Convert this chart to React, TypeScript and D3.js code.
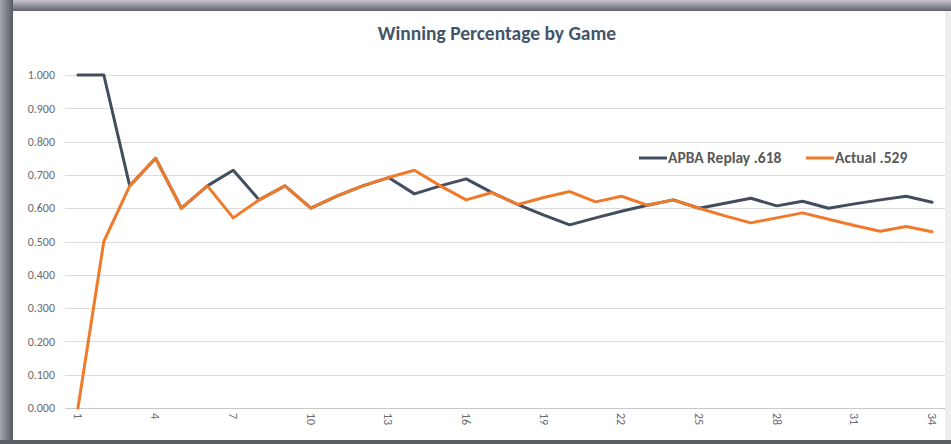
import React, { useEffect, useRef } from "react";
import * as d3 from "d3";

// Winning percentage after each game
const games: number[] = d3.range(1, 35);

const apbaReplay: number[] = [
  1.0, 1.0, 0.667, 0.75, 0.6, 0.667, 0.714, 0.625, 0.667, 0.6,
  0.636, 0.667, 0.692, 0.643, 0.667, 0.688, 0.647, 0.611, 0.579, 0.55,
  0.571, 0.591, 0.609, 0.625, 0.6, 0.615, 0.63, 0.607, 0.621, 0.6,
  0.613, 0.625, 0.636, 0.618,
];

const actual: number[] = [
  0.0, 0.5, 0.667, 0.75, 0.6, 0.667, 0.571, 0.625, 0.667, 0.6,
  0.636, 0.667, 0.692, 0.714, 0.667, 0.625, 0.647, 0.611, 0.632, 0.65,
  0.619, 0.636, 0.609, 0.625, 0.6, 0.577, 0.556, 0.571, 0.586, 0.567,
  0.548, 0.531, 0.545, 0.529,
];

const yTicks: number[] = [0, 0.1, 0.2, 0.3, 0.4, 0.5, 0.6, 0.7, 0.8, 0.9, 1.0];
const xTickGames: number[] = [1, 4, 7, 10, 13, 16, 19, 22, 25, 28, 31, 34];

const seriesNames = ["APBA Replay .618", "Actual .529"];
const seriesColors = ["#424D5E", "#F07A2C"];

const W = 951;
const H = 444;
const FONT = "Calibri, Carlito, 'Open Sans', sans-serif";

const App: React.FC = () => {
  const svgRef = useRef<SVGSVGElement>(null);

  useEffect(() => {
    if (!svgRef.current) return;
    const root = d3.select(svgRef.current);
    root.selectAll("*").remove();

    // Frame (screenshot border look)
    const defs = root.append("defs");
    const topGrad = defs.append("linearGradient").attr("id", "topShade").attr("x1", 0).attr("y1", 0).attr("x2", 0).attr("y2", 1);
    topGrad.append("stop").attr("offset", "0%").attr("stop-color", "#c8c9cc");
    topGrad.append("stop").attr("offset", "100%").attr("stop-color", "#5d6168");
    const leftGrad = defs.append("linearGradient").attr("id", "leftShade").attr("x1", 0).attr("y1", 0).attr("x2", 1).attr("y2", 0);
    leftGrad.append("stop").attr("offset", "0%").attr("stop-color", "#a6a8ac");
    leftGrad.append("stop").attr("offset", "100%").attr("stop-color", "#555a62");

    root.append("rect").attr("width", W).attr("height", H).attr("fill", "#eeeeef");
    root.append("rect").attr("x", 0).attr("y", 0).attr("width", W).attr("height", 11).attr("fill", "url(#topShade)");
    root.append("rect").attr("x", 0).attr("y", 0).attr("width", 13).attr("height", H).attr("fill", "url(#leftShade)");
    root.append("rect").attr("x", 13).attr("y", 11).attr("width", 932).attr("height", 429).attr("fill", "#ffffff");
    root.append("rect").attr("x", 0).attr("y", 440).attr("width", W).attr("height", 4).attr("fill", "#5a5e64");

    // Scales
    const x = d3.scaleBand<number>().domain(games).range([65, 945]).padding(0);
    const cx = (g: number) => (x(g) as number) + x.bandwidth() / 2;
    const y = d3.scaleLinear().domain([0, 1]).range([408, 75]);

    // Title
    root
      .append("text")
      .attr("x", 497)
      .attr("y", 40)
      .attr("text-anchor", "middle")
      .style("font-family", FONT)
      .style("font-size", "19.5px")
      .style("font-weight", 700)
      .style("fill", "#44546A")
      .text("Winning Percentage by Game");

    // Grid lines
    root
      .append("g")
      .selectAll("line")
      .data(yTicks)
      .enter()
      .append("line")
      .attr("x1", 65)
      .attr("x2", 945)
      .attr("y1", (d) => Math.round(y(d)) + 0.5)
      .attr("y2", (d) => Math.round(y(d)) + 0.5)
      .style("stroke", (d) => (d === 0 ? "#c8c8c8" : "#dcdcdc"))
      .style("stroke-width", 1);

    // Y axis labels
    root
      .append("g")
      .selectAll("text")
      .data(yTicks)
      .enter()
      .append("text")
      .attr("x", 55)
      .attr("y", (d) => y(d))
      .attr("dy", "0.35em")
      .attr("text-anchor", "end")
      .style("font-family", FONT)
      .style("font-size", "12px")
      .style("fill", "#6b6b6b")
      .text((d) => d3.format(".3f")(d));

    // X axis labels (rotated)
    root
      .append("g")
      .selectAll("text")
      .data(xTickGames)
      .enter()
      .append("text")
      .attr("transform", (d) => `translate(${cx(d)},${413}) rotate(90)`)
      .attr("dy", "0.35em")
      .attr("text-anchor", "start")
      .style("font-family", FONT)
      .style("font-size", "12px")
      .style("fill", "#6b6b6b")
      .text((d) => String(d));

    // Lines
    const line = d3
      .line<number>()
      .x((_, i) => cx(games[i]))
      .y((d) => y(d));

    [apbaReplay, actual].forEach((series, k) => {
      root
        .append("path")
        .datum(series)
        .attr("d", line)
        .style("fill", "none")
        .style("stroke", seriesColors[k])
        .style("stroke-width", 3)
        .style("stroke-linejoin", "round")
        .style("stroke-linecap", "round");
    });

    // Legend
    const legendX = [639, 806];
    const legendY = 158;
    seriesNames.forEach((name, k) => {
      const g = root.append("g").attr("transform", `translate(${legendX[k]},${legendY})`);
      g.append("line")
        .attr("x1", 0)
        .attr("x2", 28)
        .attr("y1", 0)
        .attr("y2", 0)
        .style("stroke", seriesColors[k])
        .style("stroke-width", 3);
      g.append("text")
        .attr("x", 29)
        .attr("y", 0)
        .attr("dy", "0.35em")
        .style("font-family", FONT)
        .style("font-size", "15.5px")
        .style("font-weight", 700)
        .style("fill", "#595959")
        .text(name);
    });
  }, []);

  return (
    <svg
      ref={svgRef}
      width={W}
      height={H}
      style={{ position: "absolute", left: 0, top: 0, display: "block" }}
    />
  );
};

export default App;
